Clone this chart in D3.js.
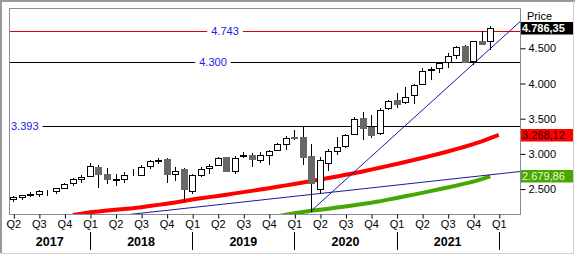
<!DOCTYPE html>
<html>
<head>
<meta charset="utf-8">
<script src="https://cdn.jsdelivr.net/npm/d3@7"></script>
<style>
  html, body { margin: 0; padding: 0; background: #fff; }
  svg { display: block; font-family: "Liberation Sans", Arial, sans-serif; }
</style>
</head>
<body>
<div id="chart"></div>
<script>
// monthly candles, Apr 2017 .. Dec 2021
const opens  = [2362,2388,2415,2424,2477,2475,2521,2583,2645,2683,2816,2715,2633,2643,2718,2704,2821,2896,2926,2718,2790,2476,2703,2798,2848,2952,2751,2971,2981,2910,2983,3050,3144,3244,3235,2975,2499,2869,3038,3105,3289,3507,3385,3296,3645,3764,3731,3842,3992,4192,4216,4300,4407,4528,4317,4610,4602];
const highs  = [2398,2418,2454,2484,2491,2519,2582,2657,2695,2873,2835,2801,2718,2742,2791,2848,2917,2941,2940,2815,2800,2708,2813,2860,2949,2954,2964,3028,3013,3022,3050,3154,3248,3338,3394,3137,2954,3068,3233,3280,3523,3588,3550,3646,3760,3870,3950,3995,4218,4238,4302,4430,4537,4546,4608,4744,4818];
const lows   = [2328,2352,2405,2407,2417,2446,2520,2557,2605,2682,2533,2585,2553,2594,2698,2698,2796,2864,2603,2631,2346,2443,2681,2722,2848,2750,2729,2953,2822,2891,2855,3050,3070,3214,2855,2192,2447,2767,2999,3102,3284,3209,3234,3280,3633,3663,3725,3723,3992,4057,4165,4233,4367,4306,4279,4560,4495];
const closes = [2384,2412,2423,2470,2472,2519,2575,2648,2674,2824,2714,2641,2648,2705,2718,2816,2902,2914,2712,2760,2507,2704,2784,2834,2946,2752,2942,2980,2926,2977,3038,3141,3231,3226,2954,2585,2912,3044,3100,3271,3500,3363,3270,3622,3756,3714,3811,3973,4181,4204,4298,4395,4523,4308,4605,4567,4786.35];

// moving averages (month index, value)
const redStart = 7;
const redMA = [2130,2150,2170,2182,2195,2205,2215,2226,2240,2258,2275,2292,2310,2330,2350,2368,2385,2400,2420,2438,2456,2474,2492,2512,2532,2552,2572,2592,2613,2635,2657,2679,2702,2725,2750,2776,2802,2829,2856,2884,2912,2941,2971,3002,3034,3067,3101,3138,3178,3222,3268.12];
const greenStart = 31;
const greenMA = [2110,2135,2155,2175,2190,2205,2220,2237,2253,2270,2288,2305,2325,2350,2373,2397,2421,2445,2470,2496,2522,2549,2577,2606,2640,2679.86];

// trend lines [month index, price]
const trendLines = [
  [[35, 2192], [59.5, 4880]],
  [[0, 1957], [59.5, 2749]]
];

const levels = [4743, 4300, 3393];
const levelColors = ["#e00000", "#000", "#000"];

const priceTicks = [2500, 3000, 3500, 4000, 4500];
const quarterTicks = [0,3,6,9,12,15,18,21,24,27,30,33,36,39,42,45,48,51,54,57];
const quarterLabels = ["Q2","Q3","Q4","Q1","Q2","Q3","Q4","Q1","Q2","Q3","Q4","Q1","Q2","Q3","Q4","Q1","Q2","Q3","Q4","Q1"];
const yearStarts = [9, 21, 33, 45, 57];
const years = ["2017","2018","2019","2020","2021"];

const W = 577, H = 256;
const L = 9.5, R = 520.5, T = 8.5, B = 214.5;

const loc = d3.formatLocale({decimal: ",", thousands: ".", grouping: [3], currency: ["", ""]});
const fInt = loc.format(",d");
const fDec = loc.format(",.2f");

const x = d3.scaleLinear().domain([-0.45, 59.55]).range([L, R]);
const y = d3.scaleLinear().domain([2138, 5066]).range([B, T]);

const svg = d3.select("#chart").append("svg")
    .attr("width", W)
    .attr("height", H);

// outer frame
svg.append("path").attr("d", `M1,${H - 3} V1 H${W - 2}`)
    .attr("fill", "none").attr("stroke", "#9a9a9a").attr("stroke-width", 2);
svg.append("path").attr("d", `M1,${H - 2.5} H${W - 3.5} V1`)
    .attr("fill", "none").attr("stroke", "#d0d0d0").attr("stroke-width", 1);

svg.append("defs").append("clipPath").attr("id", "plot-clip")
    .append("rect").attr("x", L).attr("y", T).attr("width", R - L).attr("height", B - T);

const plot = svg.append("g").attr("clip-path", "url(#plot-clip)");

// horizontal levels with their labels
const levelLabelX = [225, 213, null];
levels.forEach((v, k) => {
    const yy = Math.round(y(v)) + 0.5;
    plot.append("line")
        .attr("x1", L).attr("x2", R).attr("y1", yy).attr("y2", yy)
        .attr("stroke", levelColors[k]).attr("stroke-width", 1);
    const t = plot.append("text")
        .attr("y", yy)
        .attr("dy", "0.35em")
        .attr("font-size", 11)
        .attr("fill", "#2222dd")
        .text(fInt(v));
    if (levelLabelX[k] == null) t.attr("x", 11).attr("text-anchor", "start");
    else t.attr("x", levelLabelX[k]).attr("text-anchor", "middle");
    const bb = t.node().getBBox();
    plot.insert("rect", function() { return t.node(); })
        .attr("x", bb.x - 4).attr("y", yy - 2).attr("width", bb.width + 8).attr("height", 4)
        .attr("fill", "#fff");
});

// moving averages
const line = d3.line().x(d => x(d[0])).y(d => y(d[1]));
plot.append("path")
    .datum(redMA.map((v, k) => [redStart + k, v]))
    .attr("d", line).attr("fill", "none")
    .attr("stroke", "#ff0000").attr("stroke-width", 4);
plot.append("path")
    .datum(greenMA.map((v, k) => [greenStart + k, v]))
    .attr("d", line).attr("fill", "none")
    .attr("stroke", "#44a800").attr("stroke-width", 4);

// trend lines
trendLines.forEach(tl => {
    plot.append("path").datum(tl).attr("d", line)
        .attr("fill", "none").attr("stroke", "#1a1a9c").attr("stroke-width", 1);
});

// candles
const candles = opens.map((o, i) => ({i, o, h: highs[i], l: lows[i], c: closes[i]}));
const cg = plot.append("g").attr("shape-rendering", "crispEdges");
candles.forEach(d => {
    const cx = Math.round(x(d.i));
    const up = d.c >= d.o;
    cg.append("line")
        .attr("x1", cx + 0.5).attr("x2", cx + 0.5)
        .attr("y1", Math.round(y(d.h))).attr("y2", Math.round(y(d.l)) + 1)
        .attr("stroke", "#000");
    const top = Math.round(y(Math.max(d.o, d.c)));
    const bot = Math.round(y(Math.min(d.o, d.c)));
    cg.append("rect")
        .attr("x", cx - 2.5).attr("y", top + 0.5)
        .attr("width", 6).attr("height", Math.max(0, bot - top))
        .attr("fill", up ? "#fff" : "#686868")
        .attr("stroke", up ? "#000" : "#686868");
});

// plot border
svg.append("rect")
    .attr("x", L).attr("y", T).attr("width", R - L).attr("height", B - T)
    .attr("fill", "none").attr("stroke", "#8a8a9a");

// price axis
const yAxis = svg.append("g")
    .attr("transform", `translate(${R},0)`)
    .call(d3.axisRight(y).tickValues(priceTicks).tickFormat(fInt).tickSize(5).tickPadding(3));
yAxis.select(".domain").remove();
yAxis.selectAll("text").attr("font-size", 11).attr("font-family", null).attr("fill", "#000");

svg.append("text")
    .attr("x", 527).attr("y", 16).attr("dy", "0.35em")
    .attr("font-size", 11).text("Price");

// last value boxes
const tags = [
    {v: closes[closes.length - 1], bg: "#000", fg: "#fff", w: "bold"},
    {v: redMA[redMA.length - 1], bg: "#ff0000", fg: "#1a0000", w: "normal"},
    {v: greenMA[greenMA.length - 1], bg: "#44a800", fg: "#f4f4d8", w: "normal"}
];
tags.forEach(t => {
    const yy = y(t.v);
    svg.append("rect")
        .attr("x", R + 0.5).attr("y", Math.round(yy) - 6)
        .attr("width", 52).attr("height", 12.5)
        .attr("fill", t.bg);
    svg.append("text")
        .attr("x", R + 1.5).attr("y", Math.round(yy)).attr("dy", "0.36em")
        .attr("font-size", 11).attr("font-weight", t.w)
        .attr("fill", t.fg).text(fDec(t.v));
});

// quarter axis
const xAxis = svg.append("g")
    .attr("transform", `translate(0,${B})`)
    .call(d3.axisBottom(x).tickValues(quarterTicks)
        .tickFormat((d, k) => quarterLabels[k]).tickSize(4).tickPadding(2));
xAxis.select(".domain").remove();
xAxis.selectAll("text").attr("font-size", 11).attr("font-family", null).attr("fill", "#000");
xAxis.selectAll("line").attr("transform", "translate(0.5,0)");

// year dividers and labels
yearStarts.forEach(i => {
    const xx = Math.round(x(i)) + 0.5;
    svg.append("line")
        .attr("x1", xx).attr("x2", xx).attr("y1", 232).attr("y2", 250)
        .attr("stroke", "#000");
});
years.forEach((yr, k) => {
    const a = k === 0 ? L : x(yearStarts[k - 1]);
    const b = x(yearStarts[k]);
    svg.append("text")
        .attr("x", (a + b) / 2).attr("y", 242).attr("dy", "0.35em")
        .attr("text-anchor", "middle")
        .attr("font-size", 12.5).attr("font-weight", "bold")
        .text(yr);
});
</script>
</body>
</html>
